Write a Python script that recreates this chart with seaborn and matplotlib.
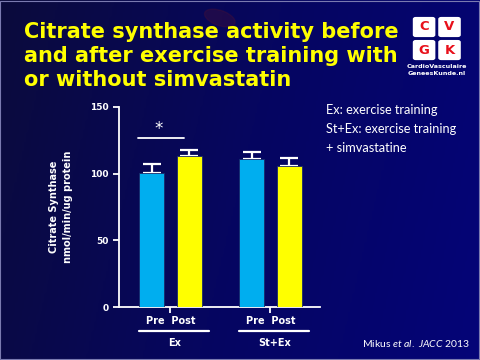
import numpy as np
import pandas as pd
import matplotlib.pyplot as plt
import seaborn as sns
from matplotlib.patches import FancyBboxPatch, Ellipse, Rectangle
from matplotlib.colors import LinearSegmentedColormap

sns.set_theme(style="ticks")
plt.rcParams['font.family'] = ['DejaVu Sans']
plt.rcParams['mathtext.fontset'] = 'custom'
plt.rcParams['mathtext.it'] = 'Lato:italic'
plt.rcParams['mathtext.rm'] = 'Lato'

# Datos
grupos = ["Ex", "Ex", "St+Ex", "St+Ex"]
fases = ["Pre", "Post", "Pre", "Post"]
posiciones = [0, 1, 2.667, 3.667]
media = [100.5, 113.5, 110.8, 106.0]
error = [6.5, 4.5, 5.5, 5.5]
centros_grupo = [0.5, 3.167]
etiquetas_grupo = ["Ex", "St+Ex"]

df = pd.DataFrame({"pos": posiciones, "valor": media, "fase": fases, "grupo": grupos})

fig = plt.figure(figsize=(4.8, 3.6), dpi=100)

# Fondo azul oscuro con degradado
bg = fig.add_axes([0, 0, 1, 1], zorder=-10)
cmap = LinearSegmentedColormap.from_list("fondo", ["#0b0b3c", "#060660", "#040478"])
gx, gy = np.meshgrid(np.linspace(0, 1, 200), np.linspace(0, 1, 150))
bg.imshow(gx * 0.85 + gy * 0.15, cmap=cmap, aspect="auto", extent=[0, 1, 0, 1])
bg.add_patch(Ellipse((0.458, 0.95), 0.07, 0.04, angle=-30, color="#4a1035", alpha=0.35))
bg.add_patch(Rectangle((0.001, 0.002), 0.997, 0.996, fill=False, edgecolor="#7a7ab0", lw=0.8))
bg.set_xlim(0, 1)
bg.set_ylim(0, 1)
bg.axis("off")

# Título
fig.text(0.05, 0.94, "Citrate synthase activity before\nand after exercise training with\nor without simvastatin",
         color="#ffff00", fontsize=15, fontweight="bold", va="top", ha="left", linespacing=1.26)

# Logo CVGK
logo = [("C", 0.860, 0.897), ("V", 0.913, 0.897), ("G", 0.860, 0.833), ("K", 0.913, 0.833)]
for letra, lx, ly in logo:
    fig.patches.append(FancyBboxPatch((lx, ly), 0.047, 0.056, boxstyle="round,pad=0,rounding_size=0.006",
                                      transform=fig.transFigure, facecolor="white", edgecolor="none"))
    fig.text(lx + 0.0235, ly + 0.028, letra, color="#e8101a", fontsize=9.5, fontweight="bold",
             ha="center", va="center")
fig.text(0.91, 0.815, "CardioVasculaire", color="white", fontsize=4.6, fontweight="bold",
         ha="center", va="center")
fig.text(0.91, 0.795, "GeneesKunde.nl", color="white", fontsize=4.6, fontweight="bold",
         ha="center", va="center")

# Texto explicativo
fig.text(0.679, 0.71, "Ex: exercise training\nSt+Ex: exercise training\n+ simvastatine",
         color="white", fontsize=9.2, family="Lato", va="top", ha="left", linespacing=1.68)

fig.text(0.755, 0.047, "Mikus $et\\ al.\\ JACC\\ 2013$", color="white", fontsize=7.5,
         family="Lato", ha="left", va="center")

# Gráfica de barras
ax = fig.add_axes([0.248, 0.147, 0.419, 0.556])
ax.set_facecolor("none")
sns.barplot(data=df, x="pos", y="valor", hue="fase", palette={"Pre": "#00aeef", "Post": "#ffff00"},
            native_scale=True, width=0.67, saturation=1, edgecolor="#1a2a6a", linewidth=0.6,
            errorbar=None, legend=False, ax=ax, zorder=3)
ax.errorbar(posiciones, media, yerr=[np.zeros(4), error], fmt="none", ecolor="white",
            elinewidth=1.6, capsize=6.5, capthick=1.6, zorder=2)

ax.set_xlim(-0.867, 4.49)
ax.set_ylim(0, 150)
ax.set_yticks([0, 50, 100, 150])
ax.set_xticks(centros_grupo)
ax.set_xticklabels([])
for s in ["top", "right"]:
    ax.spines[s].set_visible(False)
for s in ["left", "bottom"]:
    ax.spines[s].set_color("white")
    ax.spines[s].set_linewidth(1.3)
ax.tick_params(colors="white", labelsize=6.5, width=1.3, length=4)
for t in ax.get_yticklabels():
    t.set_fontweight("bold")
ax.set_xlabel("")
ax.set_ylabel("Citrate Synthase\nnmol/min/ug protein", color="white", fontsize=7, fontweight="bold",
              labelpad=12, linespacing=1.5)

# Significancia
ax.plot([-0.36, 0.867], [126.75, 126.75], color="white", lw=1.3, clip_on=False)
ax.text(0.2, 127, "*", color="white", fontsize=12, ha="center", va="bottom")

# Etiquetas inferiores
tr = ax.get_xaxis_transform()
for c, g in zip(centros_grupo, etiquetas_grupo):
    ax.text(c, -0.07, "Pre  Post", color="white", fontsize=7, fontweight="bold",
            ha="center", va="center", transform=tr)
    ax.plot([c - 0.83, c + 1.03], [-0.12, -0.12], color="white", lw=1.6, transform=tr, clip_on=False)
    ax.text(c + 0.1, -0.18, g, color="white", fontsize=7, fontweight="bold",
            ha="center", va="center", transform=tr)

fig.savefig("out.png", dpi=100)
